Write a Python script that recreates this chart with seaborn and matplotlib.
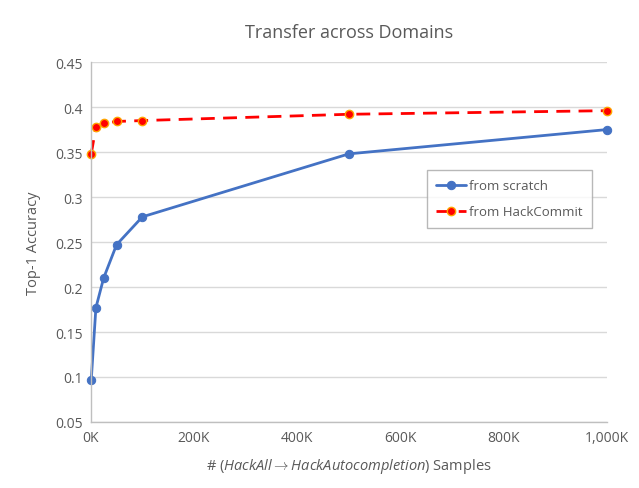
import numpy as np
import pandas as pd
import matplotlib
matplotlib.use("Agg")
import matplotlib.pyplot as plt
from matplotlib.ticker import FuncFormatter, MultipleLocator
import seaborn as sns

# data
samples = [1000, 10000, 25000, 50000, 100000, 500000, 1000000]
from_scratch = [0.097, 0.177, 0.210, 0.247, 0.278, 0.348, 0.375]
from_hackcommit = [0.348, 0.378, 0.382, 0.384, 0.385, 0.392, 0.396]

sns.set_theme(style="white")
plt.rcParams["font.family"] = ["Open Sans", "DejaVu Sans"]
plt.rcParams["mathtext.fontset"] = "custom"
plt.rcParams["mathtext.rm"] = "Open Sans"
plt.rcParams["mathtext.it"] = "Open Sans:italic"

text_col = "#595959"

fig = plt.figure(figsize=(6.39, 4.89), dpi=100)
ax = fig.add_axes([0.142, 0.135, 0.808, 0.736])

sns.lineplot(x=samples, y=from_scratch, ax=ax, color="#4472c4",
             linewidth=2, marker="o", markersize=6,
             markeredgecolor="#4472c4", label="from scratch", clip_on=False)
sns.lineplot(x=samples, y=from_hackcommit, ax=ax, color="#ff0000",
             linewidth=2, marker="o", markersize=6,
             markerfacecolor="#ff0000", markeredgecolor="#ffa500",
             markeredgewidth=1, label="from HackCommit", clip_on=False)
ax.lines[1].set_dashes([5, 3])

ax.set_xlim(0, 1000000)
ax.set_ylim(0.05, 0.45)
ax.yaxis.set_major_locator(MultipleLocator(0.05))
ax.xaxis.set_major_locator(MultipleLocator(200000))
ax.xaxis.set_major_formatter(FuncFormatter(lambda v, p: f"{v/1000:,.0f}K"))
ax.yaxis.set_major_formatter(FuncFormatter(lambda v, p: f"{v:.2f}".rstrip("0").rstrip(".")))

ax.grid(axis="y", color="#d9d9d9", linewidth=1)
ax.set_axisbelow(True)
for s in ["top", "right"]:
    ax.spines[s].set_visible(False)
for s in ["left", "bottom"]:
    ax.spines[s].set_color("#bfbfbf")
    ax.spines[s].set_linewidth(1)
ax.tick_params(length=0, labelsize=10, colors=text_col, pad=6)

ax.set_title("Transfer across Domains", fontsize=13, color=text_col, pad=18)
ax.set_ylabel("Top-1 Accuracy", fontsize=10.5, color=text_col, labelpad=10)
ax.set_xlabel(r"# ($\mathit{HackAll}\rightarrow\mathit{HackAutocompletion)}$ Samples",
              fontsize=10.5, color=text_col, labelpad=8)

leg = ax.legend(loc="upper left", bbox_to_anchor=(0.651, 0.70), frameon=True,
                fancybox=False, fontsize=9.5, labelcolor=text_col,
                borderpad=0.7, labelspacing=1.0, handlelength=2.3,
                handletextpad=0.2, borderaxespad=0)
leg.get_frame().set_edgecolor("#a6a6a6")
leg.get_frame().set_linewidth(1)

fig.savefig("out.png", dpi=100)
